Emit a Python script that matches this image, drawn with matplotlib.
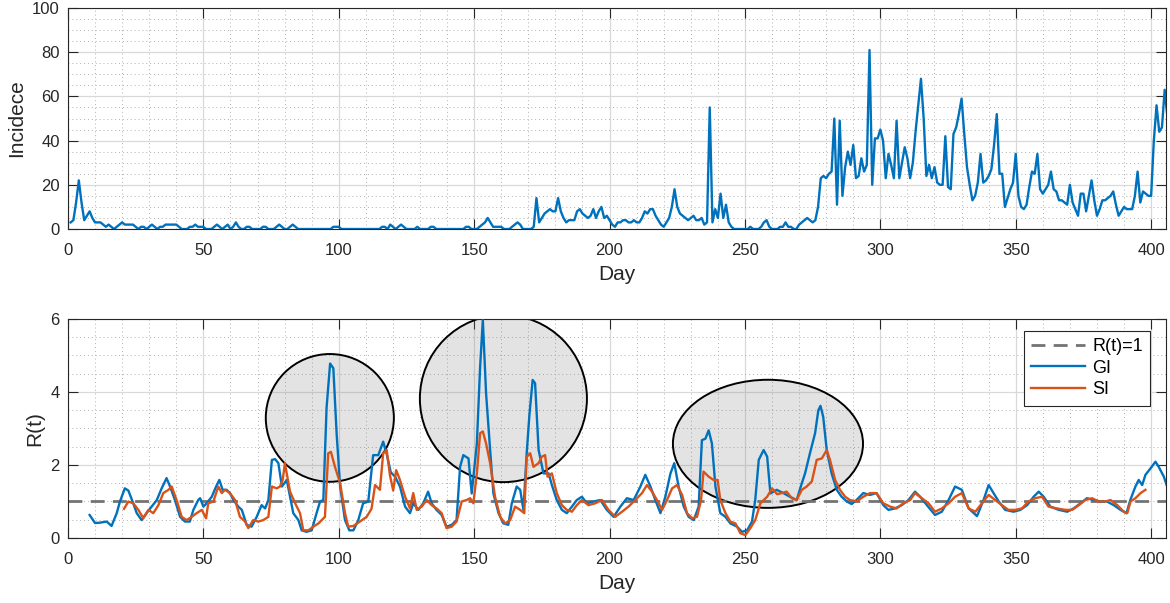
import numpy as np
import matplotlib
matplotlib.use('Agg')
import matplotlib.pyplot as plt
from matplotlib.patches import Ellipse
from matplotlib.ticker import MultipleLocator

plt.rcParams['font.family'] = ['Liberation Sans', 'DejaVu Sans']

# Daily incidence, days 1..406
incidence = [
    3, 4, 12, 22, 12, 4, 6, 8, 5, 3,
    3, 3, 2, 1, 2, 1, 0, 1, 2, 3,
    2, 2, 2, 2, 1, 0, 1, 1, 0, 1,
    2, 1, 0, 1, 1, 2, 2, 2, 2, 2,
    1, 0, 0, 0, 1, 1, 2, 1, 1, 1,
    0, 0, 0, 1, 2, 1, 0, 1, 2, 0,
    1, 3, 1, 0, 0, 1, 1, 0, 0, 0,
    0, 1, 1, 0, 0, 0, 1, 2, 1, 0,
    0, 1, 2, 1, 0, 0, 0, 0, 0, 0,
    0, 0, 0, 0, 0, 0, 0, 1, 1, 1,
    0, 0, 0, 0, 0, 0, 0, 0, 0, 0,
    0, 0, 0, 0, 0, 1, 1, 0, 2, 1,
    0, 1, 2, 1, 0, 0, 0, 0, 1, 0,
    0, 0, 0, 1, 1, 0, 0, 0, 0, 0,
    0, 0, 0, 0, 0, 0, 1, 1, 0, 0,
    0, 1, 2, 3, 5, 3, 1, 1, 1, 1,
    0, 0, 0, 1, 2, 3, 2, 0, 0, 0,
    0, 1, 14, 3, 5, 7, 8, 9, 8, 8,
    14, 8, 5, 3, 4, 4, 4, 8, 9, 7,
    6, 5, 6, 9, 5, 8, 10, 5, 6, 4,
    2, 1, 3, 3, 4, 4, 3, 3, 4, 3,
    3, 5, 8, 7, 9, 9, 6, 4, 2, 1,
    3, 5, 10, 18, 10, 7, 6, 5, 4, 5,
    6, 4, 4, 5, 2, 3, 55, 3, 9, 5,
    16, 5, 11, 3, 1, 0, 0, 0, 0, 0,
    0, 1, 0, 0, 0, 1, 3, 4, 1, 0,
    0, 0, 1, 1, 3, 1, 1, 0, 0, 2,
    3, 4, 5, 4, 3, 4, 10, 23, 24, 23,
    25, 26, 50, 11, 49, 15, 28, 35, 29, 38,
    23, 24, 32, 26, 29, 81, 20, 41, 41, 45,
    40, 23, 34, 29, 23, 49, 23, 30, 37, 32,
    23, 30, 44, 56, 68, 50, 24, 29, 23, 28,
    21, 20, 20, 42, 19, 18, 43, 46, 52, 59,
    43, 28, 20, 13, 15, 21, 34, 21, 22, 24,
    27, 38, 52, 25, 25, 10, 14, 18, 21, 34,
    15, 10, 9, 11, 19, 26, 25, 34, 18, 16,
    18, 20, 26, 18, 17, 13, 13, 12, 11, 20,
    12, 9, 6, 16, 16, 8, 15, 22, 13, 6,
    9, 13, 13, 14, 15, 17, 11, 6, 8, 10,
    9, 9, 9, 15, 26, 12, 17, 16, 15, 15,
    40, 56, 44, 46, 63, 51,
]
days = np.arange(1, len(incidence) + 1)

# R(t) estimated with the generation interval (GI): (day, R)
gi_points = [
    (8, 0.63), (10, 0.41), (11.8, 0.42), (14.3, 0.45), (16.1, 0.33), (18, 0.68),
    (19.2, 1.0), (21, 1.36), (22.3, 1.3), (24.1, 0.95), (25.4, 0.68), (27.2, 0.49),
    (29, 0.68), (30.9, 0.86), (32.8, 1.04), (34.6, 1.36), (36.4, 1.64), (37.7, 1.41),
    (39.5, 1.04), (41.4, 0.58), (43.2, 0.45), (45, 0.45), (46.3, 0.77), (48.1, 1.04),
    (48.8, 1.09), (50, 0.86), (51.2, 0.95), (53.1, 1.13), (54.7, 1.41), (55.9, 1.59),
    (57.1, 1.32), (58.6, 1.32), (59.8, 1.23), (61.1, 1.04), (62.9, 0.86), (64.2, 0.77),
    (66, 0.36), (67.8, 0.31), (69.7, 0.58), (71.5, 0.9), (72.8, 0.81), (74, 1.04),
    (75.3, 2.14), (76.5, 2.16), (77.7, 2.05), (79, 1.41), (80.8, 1.59), (82, 1.13),
    (83.2, 0.68), (85.1, 0.49), (86.3, 0.21), (88.1, 0.17), (90, 0.21), (91.8, 0.68),
    (93.1, 1.0), (94.3, 1.04), (95.5, 3.57), (96.8, 4.78), (98, 4.65), (99.2, 2.87),
    (100.5, 1.41), (102.3, 0.49), (103.9, 0.21), (105.4, 0.21), (107.2, 0.49), (109, 0.95),
    (110.9, 1.0), (112.7, 2.27), (114.6, 2.27), (116.4, 2.64), (117.7, 2.3), (119.2, 1.8),
    (120.8, 1.68), (122.6, 1.41), (124.5, 0.86), (126.3, 0.68), (127.5, 0.95), (129.4, 0.77),
    (131.2, 0.95), (133, 1.27), (134.3, 0.95), (136.1, 0.77), (138, 0.63), (139.8, 0.31),
    (141.7, 0.36), (143.5, 0.49), (144.8, 1.95), (146, 2.27), (147.9, 2.18), (149.1, 1.22),
    (151, 2.59), (152.2, 4.69), (153.2, 5.97), (154.4, 3.96), (155.9, 2.41), (157.1, 1.22),
    (159, 0.68), (160.8, 0.4), (162.6, 0.36), (163.9, 0.95), (165.7, 1.41), (167, 1.32),
    (168.2, 0.77), (169.4, 2.32), (170.4, 3.37), (171.6, 4.33), (172.5, 4.24), (173.8, 2.41),
    (175.6, 1.77), (177.5, 1.77), (178.7, 1.45), (180.5, 1.04), (182.4, 0.77), (184.2, 0.68),
    (186.1, 0.86), (187.9, 1.04), (189.8, 1.13), (191.6, 0.95), (194.1, 1.0), (196.6, 1.04),
    (199, 0.77), (201.5, 0.58), (204, 0.86), (206.4, 1.09), (208.9, 1.04), (211.4, 1.41),
    (213.2, 1.73), (215.1, 1.41), (216.9, 1.04), (218.8, 0.68), (220.6, 1.13), (222.5, 1.77),
    (223.9, 2.05), (225.5, 1.41), (227.4, 0.86), (229.2, 0.58), (231.1, 0.49), (232.9, 0.86),
    (234.1, 2.68), (235.4, 2.72), (236.6, 2.95), (237.8, 2.59), (239.1, 1.41), (240.9, 0.68),
    (242.8, 0.58), (244.6, 0.4), (247.1, 0.31), (248.9, 0.17), (250.8, 0.21), (252.6, 0.45),
    (253.8, 1.04), (255.1, 2.14), (256.9, 2.41), (258.2, 2.23), (259.4, 1.22), (261.7, 1.32),
    (264.2, 1.23), (266.6, 1.13), (269.1, 1.04), (271, 1.5), (272.2, 1.77), (274, 2.32),
    (275.9, 2.87), (277.1, 3.5), (277.9, 3.62), (278.9, 3.32), (280.2, 2.41), (282, 1.77),
    (283.9, 1.32), (285.7, 1.13), (287.6, 1.0), (289.4, 0.93), (291.2, 1.04), (293.7, 1.23),
    (296.2, 1.18), (298.6, 1.23), (301.1, 0.9), (303, 0.77), (305.4, 0.81), (307.9, 0.9),
    (310.4, 1.04), (312.8, 1.27), (314.7, 1.13), (317.2, 0.9), (320.2, 0.63), (322.7, 0.72),
    (325.2, 1.04), (327.6, 1.41), (330.1, 1.32), (332.6, 0.81), (335.7, 0.6), (338.1, 1.04),
    (340, 1.45), (341.8, 1.23), (343.7, 1.0), (346.1, 0.77), (349.2, 0.72), (351.7, 0.77),
    (354.2, 0.9), (356.6, 1.13), (358.5, 1.27), (360.3, 1.13), (362.8, 0.86), (365.9, 0.77),
    (369, 0.72), (371.4, 0.81), (373.9, 0.95), (376.3, 1.09), (378.8, 1.04), (381.3, 1.0),
    (383.7, 1.0), (386.2, 0.9), (388.7, 0.77), (390.9, 0.68), (392.3, 1.04), (394.2, 1.41),
    (395.4, 1.59), (396.7, 1.45), (397.9, 1.73), (399.8, 1.91), (401.6, 2.09), (402.8, 1.95),
    (404.7, 1.68), (405.9, 1.41),
]

# R(t) estimated with the serial interval (SI): (day, R)
si_points = [
    (20.7, 0.8), (22.3, 1.0), (24.1, 0.95), (26, 0.77), (27.8, 0.54), (29.7, 0.77),
    (31.5, 0.68), (33.4, 0.9), (35.2, 1.23), (37.1, 1.32), (38.3, 1.41), (40.1, 1.04),
    (42, 0.58), (43.8, 0.49), (45.7, 0.58), (47.5, 0.68), (49.4, 0.77), (51, 0.54),
    (51.8, 0.95), (53.7, 1.0), (55.5, 1.41), (56.8, 1.23), (58, 1.32), (59.8, 1.23),
    (61.7, 1.04), (63.5, 0.58), (65.4, 0.45), (66.6, 0.27), (68.4, 0.49), (70.3, 0.45),
    (72.1, 0.49), (74, 0.58), (75.3, 1.41), (77.1, 1.36), (78.3, 1.41), (79.3, 1.59),
    (80.1, 2.05), (81, 1.68), (82, 1.27), (83.9, 0.95), (85.7, 0.68), (86.9, 0.21),
    (88.8, 0.21), (90.6, 0.31), (92.5, 0.4), (94.9, 0.58), (96.1, 2.32), (97.1, 2.36),
    (98.6, 1.95), (100.5, 1.5), (102.3, 0.68), (103.5, 0.31), (105.4, 0.33), (107.8, 0.45),
    (110.3, 0.58), (112.1, 0.8), (113.4, 1.45), (115.2, 1.32), (116.4, 2.32), (117.7, 2.41),
    (118.9, 1.72), (120.1, 1.3), (121.2, 1.86), (122.6, 1.59), (124.5, 1.13), (126.3, 0.81),
    (127.5, 1.23), (128.8, 0.77), (130.6, 0.86), (132.5, 1.04), (134.3, 0.9), (136.1, 0.81),
    (138, 0.68), (139.8, 0.27), (141.7, 0.31), (143.5, 0.45), (145.4, 1.0), (147.2, 1.04),
    (148.5, 1.09), (149.7, 0.95), (151, 1.77), (152.2, 2.87), (153.2, 2.92), (154.4, 2.59),
    (155.9, 2.05), (157.7, 1.13), (159.6, 0.58), (161.4, 0.4), (163.3, 0.49), (165.1, 0.86),
    (167, 0.77), (168.5, 0.68), (169.4, 2.23), (170.7, 2.32), (171.9, 1.95), (173.8, 2.05),
    (175, 2.23), (176.2, 2.27), (177.1, 1.68), (178.7, 1.77), (180.5, 1.23), (182.4, 0.9),
    (184.2, 0.77), (186.1, 0.72), (187.9, 0.9), (189.8, 1.04), (192.2, 0.9), (194.7, 0.95),
    (197.2, 1.04), (199.6, 0.77), (202.1, 0.58), (204.6, 0.72), (207, 0.86), (209.5, 1.04),
    (212, 1.23), (213.8, 1.45), (215.7, 1.27), (217.5, 1.04), (219.4, 0.77), (221.2, 1.04),
    (223.1, 1.36), (224.9, 1.45), (226.8, 1.18), (228.6, 0.68), (230.5, 0.54), (232.3, 0.58),
    (233.8, 1.04), (234.7, 1.82), (236.6, 1.68), (238.4, 1.59), (239.9, 1.59), (240.9, 1.04),
    (242.8, 0.68), (244.6, 0.45), (246.5, 0.4), (248.3, 0.13), (250.2, 0.08), (252, 0.27),
    (253.8, 0.49), (255.7, 0.95), (258.2, 1.13), (260, 1.36), (261.9, 1.2), (263.6, 1.23),
    (265.4, 1.27), (267.3, 1.09), (269.1, 1.04), (271, 1.32), (272.8, 1.41), (274.7, 1.55),
    (276.5, 2.14), (278.4, 2.18), (280.2, 2.41), (281.4, 2.14), (283.3, 1.59), (285.1, 1.32),
    (287, 1.13), (288.8, 1.04), (291.2, 1.0), (293.7, 1.13), (296.2, 1.23), (298.6, 1.23),
    (301.1, 0.95), (303.6, 0.86), (306, 0.81), (308.5, 0.95), (311, 1.04), (312.8, 1.23),
    (315.3, 1.09), (317.8, 0.95), (320.2, 0.72), (322.7, 0.81), (325.2, 0.95), (327.6, 1.13),
    (330.1, 1.23), (332.6, 0.81), (335.1, 0.72), (337.5, 0.95), (340, 1.18), (342.4, 1.04),
    (344.9, 0.9), (347.3, 0.77), (349.8, 0.77), (352.3, 0.81), (354.7, 1.0), (357.2, 1.09),
    (359.7, 1.13), (362.1, 0.86), (365.2, 0.81), (368.3, 0.77), (370.8, 0.77), (373.3, 0.9),
    (375.7, 1.04), (378.2, 1.09), (380.6, 1.0), (383.1, 1.0), (385, 1.04), (387.5, 0.9),
    (389.9, 0.72), (391.2, 0.68), (392.4, 1.0), (394.2, 1.09), (396.1, 1.23), (397.9, 1.32),
]
gi_day, gi_r = map(np.array, zip(*gi_points))
si_day, si_r = map(np.array, zip(*si_points))

# highlighted periods: (centre day, centre R, width in days, height in R)
highlights = [(96.7, 3.29, 47.3, 3.5), (160.8, 3.82, 61.7, 4.58), (258.5, 2.58, 70.2, 3.51)]

blue = '#0072BD'
orange = '#D95319'
dark = '#262626'


def style(ax):
    ax.set_xlim(0, 405.5)
    ax.xaxis.set_major_locator(MultipleLocator(50))
    ax.xaxis.set_minor_locator(MultipleLocator(10))
    ax.tick_params(direction='in', top=True, right=True, length=7, width=0.8,
                   labelsize=12, colors=dark)
    ax.tick_params(axis='x', pad=10)
    ax.tick_params(axis='y', pad=6)
    ax.tick_params(which='minor', length=0)
    ax.grid(which='major', color='#d9d9d9', lw=0.9)
    ax.grid(which='minor', color='#b0b0b0', ls=(0, (1, 3)), lw=0.7)
    ax.set_axisbelow(True)
    for s in ax.spines.values():
        s.set_color(dark)
        s.set_linewidth(0.8)
    ax.set_xlabel('Day', fontsize=15, color=dark, labelpad=5)


fig = plt.figure(figsize=(11.7, 6.03), dpi=100)

# Incidence
ax1 = fig.add_axes([0.0581, 0.6202, 0.9385, 0.3665])
ax1.plot(days, incidence, color=blue, lw=1.7)
ax1.set_ylim(0, 100)
ax1.yaxis.set_major_locator(MultipleLocator(20))
ax1.yaxis.set_minor_locator(MultipleLocator(5))
style(ax1)
ax1.set_ylabel('Incidece', fontsize=15, color=dark)

# R(t)
ax2 = fig.add_axes([0.0581, 0.1078, 0.9385, 0.3632])
for cx, cy, w, h in highlights:
    ax2.add_patch(Ellipse((cx, cy), w, h, facecolor=(0.5, 0.5, 0.5, 0.22),
                          edgecolor='black', lw=1.4, zorder=1))
ref = ax2.axhline(1, color='0.45', lw=2, label='R(t)=1', zorder=2)
ref.set_dashes((5, 3))
ax2.plot(gi_day, gi_r, color=blue, lw=1.7, label='GI', zorder=3)
ax2.plot(si_day, si_r, color=orange, lw=1.7, label='SI', zorder=4)
ax2.set_ylim(0, 6)
ax2.yaxis.set_major_locator(MultipleLocator(2))
ax2.yaxis.set_minor_locator(MultipleLocator(0.5))
style(ax2)
ax2.set_ylabel('R(t)', fontsize=15, color=dark)
leg = ax2.legend(loc='upper right', bbox_to_anchor=(0.9854, 0.945), borderaxespad=0,
                 fontsize=13, handlelength=3, labelspacing=0.25, borderpad=0.4,
                 handletextpad=0.4, fancybox=False, framealpha=1, edgecolor=dark)
leg.get_frame().set_linewidth(0.8)
leg.set_zorder(10)

fig.savefig('out.png', dpi=100)
